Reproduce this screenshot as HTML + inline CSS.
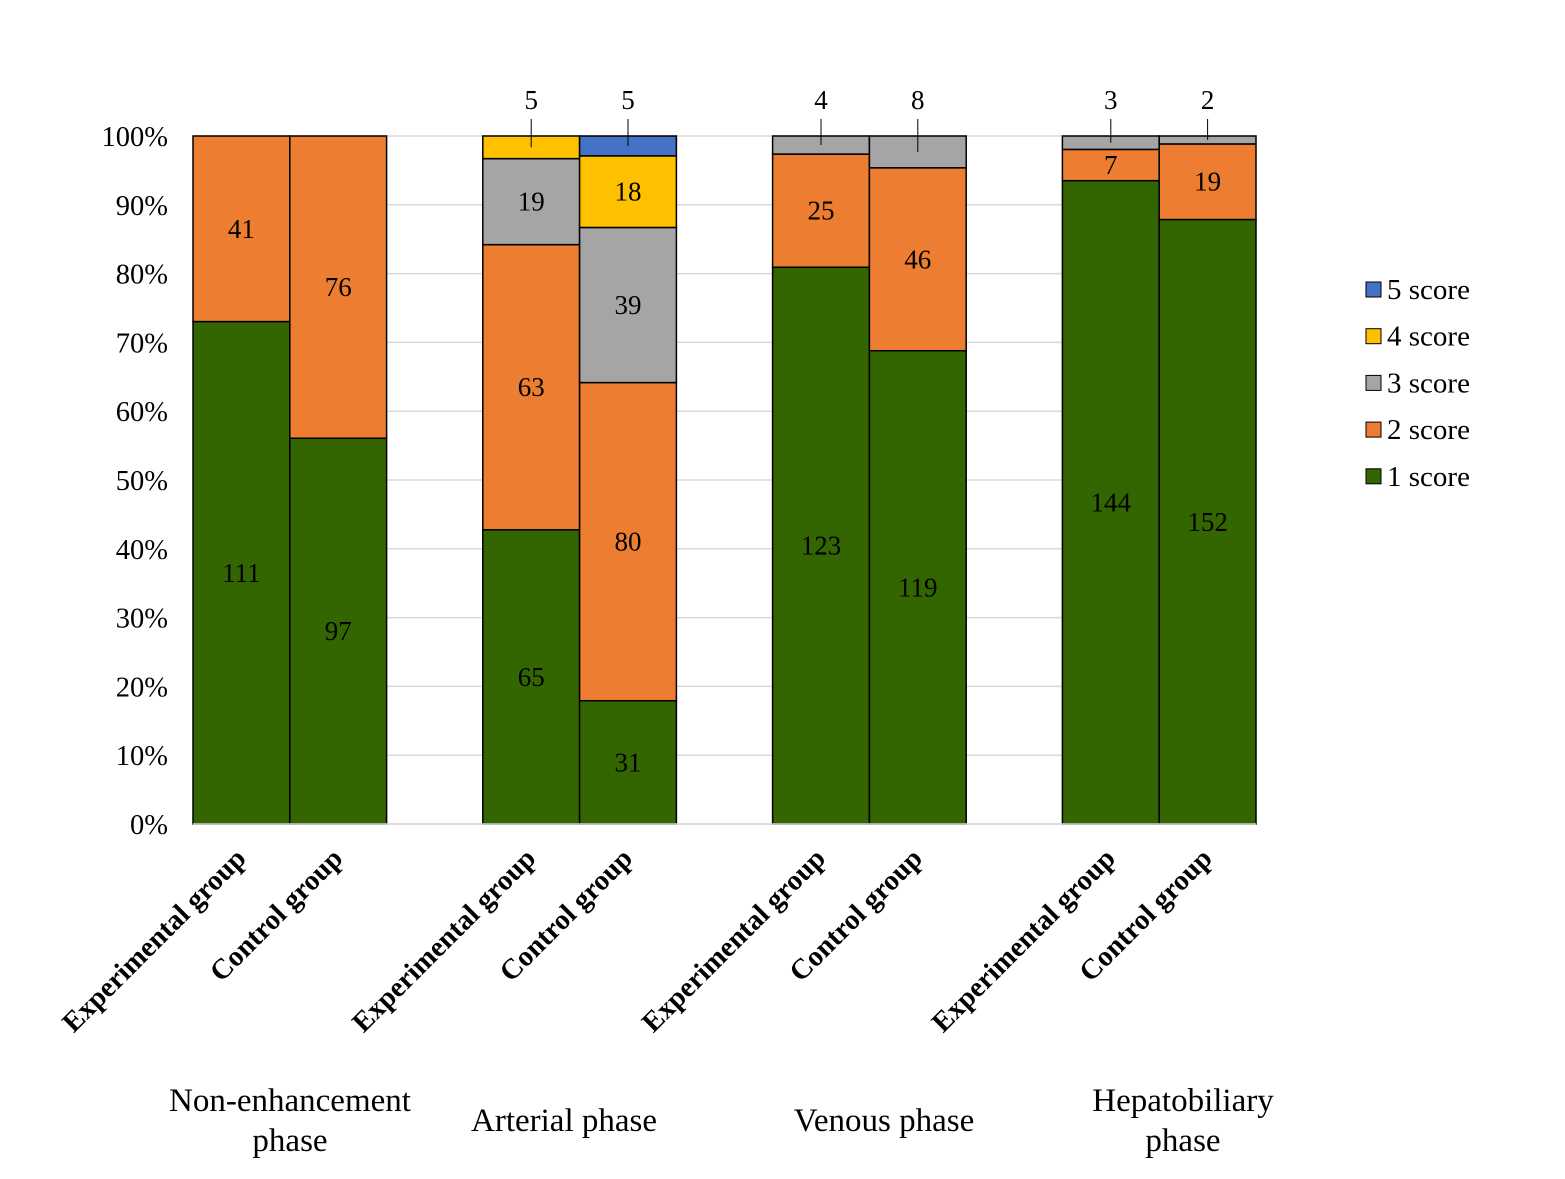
<!DOCTYPE html>
<html><head><meta charset="utf-8"><style>
body{margin:0;background:#fff}
svg{display:block;font-family:"Liberation Serif",serif}
</style></head><body>
<svg id="c" width="1565" height="1179"></svg>
<script>
const groups=["Non-enhancement|phase","Arterial phase","Venous phase","Hepatobiliary|phase"];
const bars=["Experimental group","Control group"];
const series=["1 score","2 score","3 score","4 score","5 score"];
const colors=["#336600","#ED7D31","#A5A5A5","#FFC000","#4472C4"];
const s1=[111,97,65,31,123,119,144,152];
const s2=[41,76,63,80,25,46,7,19];
const s3=[0,0,19,39,4,8,3,2];
const s4=[0,0,5,18,0,0,0,0];
const s5=[0,0,0,5,0,0,0,0];
const yTicks=[0,10,20,30,40,50,60,70,80,90,100];
const data=[s1,s2,s3,s4,s5];
const NS="http://www.w3.org/2000/svg";
const svg=document.getElementById('c');
function el(t,a,p){const e=document.createElementNS(NS,t);for(const k in a)e.setAttribute(k,a[k]);(p||svg).appendChild(e);return e;}
const y0=824,y1=136,xL=193,xR=1256;
const Y=p=>y0-(y0-y1)*p/100;
const bw=96.8,gs=289.8;
const X=i=>xL+Math.floor(i/2)*gs+(i%2)*bw;
yTicks.forEach(t=>{
 const g=el('line',{x1:xL,x2:xR,y1:Y(t),y2:Y(t),stroke:'#d9d9d9','stroke-width':1.5});
 
 const tx=el('text',{x:168,y:Y(t)+10,'text-anchor':'end','font-size':28.5});tx.textContent=t+'%';
 
});
for(let i=0;i<8;i++){
 const tot=data.reduce((s,a)=>s+a[i],0);let cum=0;
 data.forEach((arr,k)=>{
  const v=arr[i];if(!v)return;
  const p0=cum/tot*100;cum+=v;const p1=cum/tot*100;
  const r=el('rect',{x:X(i),y:Y(p1),width:bw,height:Y(p0)-Y(p1),fill:colors[k],stroke:'#000','stroke-width':1.5});
  
  const cx=X(i)+bw/2;
  let t;
  if(k>=2&&p1-p0<5){
   const l=el('line',{x1:cx,x2:cx,y1:Y(100)-17,y2:Y((p0+p1)/2),stroke:'#000','stroke-width':1});
   
   t=el('text',{x:cx,y:Y(100)-27,'text-anchor':'middle','font-size':27});
  }else t=el('text',{x:cx,y:(Y(p0)+Y(p1))/2+9,'text-anchor':'middle','font-size':27});
  t.textContent=v;
 });
 const xl=el('text',{transform:`translate(${X(i)+bw/2+6},${y0+36}) rotate(-45)`,'text-anchor':'end','font-size':28.5,'font-weight':'bold'});
 xl.textContent=bars[i%2];
}
const ax=el('line',{x1:xL,x2:xR,y1:y0,y2:y0,stroke:'#d9d9d9','stroke-width':1.5});

const gx=[290,564,884,1183];
groups.forEach((g,j)=>{
 const lines=g.split('|');
 lines.forEach((ln,m)=>{
  const t=el('text',{x:gx[j],y:lines.length>1?1111+m*40:1131,'text-anchor':'middle','font-size':33});
  t.textContent=ln;
 });
});
for(let k=4;k>=0;k--){
 const yy=290+(4-k)*46.7;
 const r=el('rect',{x:1366,y:yy-8,width:15,height:15,fill:colors[k],stroke:'#000','stroke-width':1});
 
 const t=el('text',{x:1387,y:yy+9,'font-size':29});t.textContent=series[k];
 
}
</script>
</body></html>
